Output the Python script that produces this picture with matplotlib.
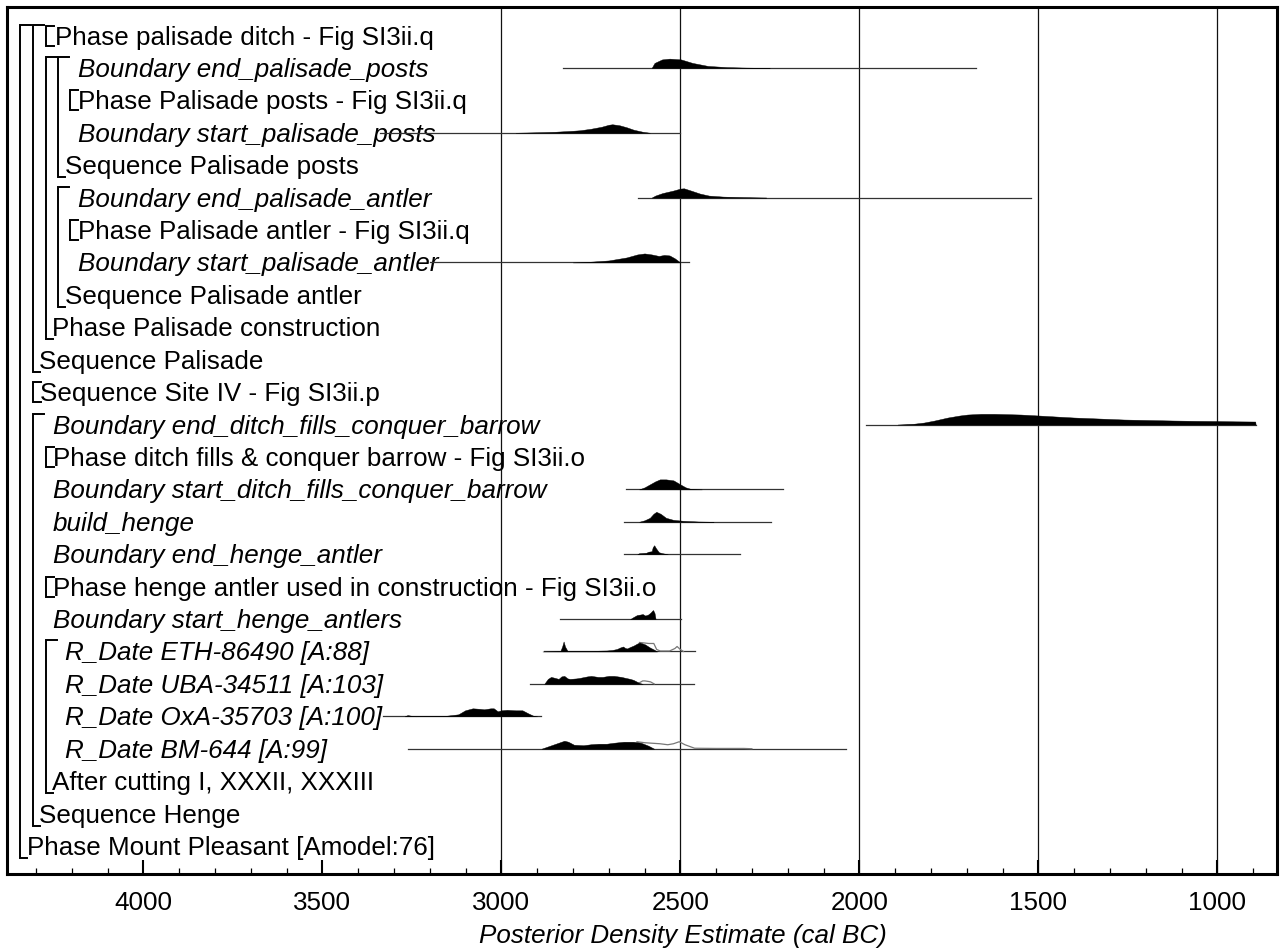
import numpy as np
import matplotlib
matplotlib.use("Agg")
import matplotlib.pyplot as plt

plt.rcParams['font.family'] = ['Liberation Sans', 'DejaVu Sans']

# --- labels, top to bottom ---
labels = [
    "Phase palisade ditch - Fig SI3ii.q",
    "Boundary end_palisade_posts",
    "Phase Palisade posts - Fig SI3ii.q",
    "Boundary start_palisade_posts",
    "Sequence Palisade posts",
    "Boundary end_palisade_antler",
    "Phase Palisade antler - Fig SI3ii.q",
    "Boundary start_palisade_antler",
    "Sequence Palisade antler",
    "Phase Palisade construction",
    "Sequence Palisade",
    "Sequence Site IV - Fig SI3ii.p",
    "Boundary end_ditch_fills_conquer_barrow",
    "Phase ditch fills & conquer barrow - Fig SI3ii.o",
    "Boundary start_ditch_fills_conquer_barrow",
    "build_henge",
    "Boundary end_henge_antler",
    "Phase henge antler used in construction - Fig SI3ii.o",
    "Boundary start_henge_antlers",
    "R_Date ETH-86490 [A:88]",
    "R_Date UBA-34511 [A:103]",
    "R_Date OxA-35703 [A:100]",
    "R_Date BM-644 [A:99]",
    "After cutting I, XXXII, XXXIII",
    "Sequence Henge",
    "Phase Mount Pleasant [Amodel:76]",
]
italic = [False, True, False, True, False, True, False, True, False, False, False, False,
          True, False, True, True, True, False, True, True, True, True, True, False, False, False]
indent = [55, 78, 78, 78, 65, 78, 78, 78, 65, 52, 39, 40,
          53, 53, 53, 53, 53, 53, 53, 65, 65, 65, 65, 52, 39, 27]

# nesting brackets: (x px, first row, last row), rows counted from 1
groups = [(20, 1, 26), (33, 1, 11), (46, 2, 10), (58, 2, 5), (58, 6, 9), (33, 13, 25), (46, 20, 24)]
collapsed = [(46, 1), (70, 3), (70, 7), (33, 12), (46, 14), (46, 18)]

# --- distributions (years cal BC, density) ---
end_pal_posts_range = (2829, 1675)
end_pal_posts_yr = [2580, 2572, 2551, 2530, 2498, 2466, 2423, 2370, 2316, 2250]
end_pal_posts_d = [0, 5, 8.5, 9.3, 8.5, 5, 2, 0.8, 0.3, 0]

start_pal_posts_range = (3338, 2500)
start_pal_posts_yr = [2960, 2900, 2850, 2800, 2780, 2750, 2720, 2700, 2690, 2670, 2650, 2630, 2605, 2585]
start_pal_posts_d = [0, 0.5, 1, 2, 2.5, 4, 6, 8, 8.5, 7.5, 5.5, 3, 1, 0]

end_pal_antler_range = (2618, 1520)
end_pal_antler_yr = [2580, 2570, 2550, 2520, 2500, 2490, 2470, 2445, 2420, 2380, 2320, 2260]
end_pal_antler_d = [0, 2, 4.5, 7, 9, 9.3, 7, 4, 2, 1, 0.4, 0]

start_pal_antler_range = (3200, 2475)
start_pal_antler_yr = [2800, 2760, 2700, 2650, 2620, 2600, 2580, 2560, 2545, 2530, 2515, 2500]
start_pal_antler_d = [0, 0.5, 2, 5, 8, 9, 8, 6.5, 7.5, 7, 4, 0]

end_ditch_range = (1982, 893)
end_ditch_yr = [1893, 1850, 1819, 1790, 1753, 1720, 1698, 1660, 1623, 1580, 1549, 1498, 1450,
                1400, 1330, 1260, 1190, 1121, 1060, 1000, 950, 894, 893]
end_ditch_d = [0, 0.7, 2, 4, 7, 9, 10, 10.7, 10.7, 10.3, 10, 9, 8,
               7, 6, 5, 4.5, 4, 3.7, 3.5, 3.2, 3, 0]

start_ditch_range = (2651, 2213)
start_ditch_yr = [2615, 2600, 2585, 2570, 2557, 2540, 2519, 2500, 2485, 2471, 2440]
start_ditch_d = [0, 2, 5, 8, 10, 10, 9, 5, 2, 0.5, 0]

build_henge_range = (2656, 2247)
build_henge_yr = [2615, 2600, 2585, 2575, 2567, 2555, 2540, 2520, 2492, 2450, 2407]
build_henge_d = [0, 1.5, 4, 8, 10, 8, 4, 2, 1, 0.3, 0]

end_henge_range = (2658, 2332)
end_henge_yr = [2620, 2615, 2595, 2589, 2580, 2577, 2573, 2568, 2560, 2550, 2535]
end_henge_d = [0, 1, 1.5, 2.5, 3, 7, 9, 6, 2, 1, 0]

start_henge_range = (2837, 2498)
start_henge_yr = [2640, 2631, 2621, 2612, 2605, 2598, 2590, 2583, 2578, 2576, 2572, 2569]
start_henge_d = [0, 2, 4, 4.5, 5, 3.5, 4.5, 6.5, 8.5, 9, 6, 0]

eth_range = (2882, 2458)
eth_yr = [2885, 2835, 2830, 2826, 2822, 2815, 2798, 2750, 2705, 2690, 2677, 2668, 2660, 2654,
          2649, 2640, 2630, 2620, 2614, 2605, 2598, 2585, 2574, 2565]
eth_d = [0, 0.5, 5, 10, 5, 0.5, 0.5, 0.6, 1, 1.5, 2.5, 4, 5, 3.5,
         3, 4.5, 6, 8, 9, 8, 7, 4, 2, 0]
eth_lik_yr = [2614, 2600, 2588, 2574, 2566, 2556, 2530, 2515, 2509, 2500, 2491]
eth_lik_d = [9, 8.5, 8, 8, 2, 0.5, 0.5, 3, 5, 2, 0]

uba_range = (2920, 2463)
uba_yr = [2880, 2870, 2861, 2850, 2840, 2832, 2824, 2815, 2808, 2790, 2781, 2760, 2749, 2730,
          2717, 2700, 2685, 2665, 2653, 2640, 2631, 2620, 2615, 2605]
uba_d = [0, 5, 7, 6, 5, 7.5, 8, 5.5, 5, 5.5, 6, 7.5, 8, 7,
         7, 8, 8, 7, 6, 5, 4, 2, 1, 0]
uba_lik_yr = [2615, 2605, 2599, 2590, 2583, 2573]
uba_lik_d = [1, 3, 3, 2.5, 2, 0]

oxa_range = (3330, 2888)
oxa_yr = [3270, 3262, 3250, 3240, 3180, 3155, 3120, 3101, 3080, 3060, 3048, 3030, 3021, 3010,
          3000, 2984, 2960, 2941, 2925, 2910, 2900]
oxa_d = [0, 1.2, 0.5, 0, 0.2, 0.5, 2, 6, 8, 7.5, 7, 8, 8, 5,
         6, 6.5, 6, 6, 3, 0.5, 0]

bm_range = (3262, 2038)
bm_yr = [2888, 2856, 2824, 2813, 2797, 2771, 2749, 2728, 2706, 2685, 2658, 2631, 2610, 2589, 2573]
bm_d = [0, 4, 8, 7, 4, 3.5, 4.5, 5, 5, 6, 7, 7, 6, 3, 0]
bm_lik_yr = [2621, 2599, 2557, 2535, 2519, 2503, 2487, 2460, 2400, 2322, 2300]
bm_lik_d = [7, 6, 5, 4, 5, 7, 4, 0.5, 0.3, 0.3, 0]

dists = {
    2: (end_pal_posts_range, end_pal_posts_yr, end_pal_posts_d, None),
    4: (start_pal_posts_range, start_pal_posts_yr, start_pal_posts_d, None),
    6: (end_pal_antler_range, end_pal_antler_yr, end_pal_antler_d, None),
    8: (start_pal_antler_range, start_pal_antler_yr, start_pal_antler_d, None),
    13: (end_ditch_range, end_ditch_yr, end_ditch_d, None),
    15: (start_ditch_range, start_ditch_yr, start_ditch_d, None),
    16: (build_henge_range, build_henge_yr, build_henge_d, None),
    17: (end_henge_range, end_henge_yr, end_henge_d, None),
    19: (start_henge_range, start_henge_yr, start_henge_d, None),
    20: (eth_range, eth_yr, eth_d, (eth_lik_yr, eth_lik_d)),
    21: (uba_range, uba_yr, uba_d, (uba_lik_yr, uba_lik_d)),
    22: (oxa_range, oxa_yr, oxa_d, None),
    23: (bm_range, bm_yr, bm_d, (bm_lik_yr, bm_lik_d)),
}

# --- layout ---
W, H = 1281, 951
fig = plt.figure(figsize=(W / 100, H / 100), dpi=100)
ax_left, ax_right, ax_top, ax_bot = 7, 1277, 7, 874
ax = fig.add_axes([ax_left / W, 1 - ax_bot / H, (ax_right - ax_left) / W, (ax_bot - ax_top) / H])

pitch = 32.42          # px per row
row0 = 35.5            # px centre of first row
x4000, x1000 = 143.3, 1217.3


def xpx(p):
    # figure pixel -> year cal BC
    return 4000 - (p - x4000) * 3000 / (x1000 - x4000)


def dy(p):
    return p / pitch


ax.set_xlim(xpx(ax_left), xpx(ax_right))
ax.set_ylim(1 + (ax_bot - row0) / pitch, 1 - (row0 - ax_top) / pitch)

for yr in [3000, 2500, 2000, 1500, 1000]:
    ax.axvline(yr, color='#111111', lw=0.9, zorder=1)

fs = 18.7
for i, (lab, it, ind) in enumerate(zip(labels, italic, indent), start=1):
    ax.text(xpx(ind), i + dy(9), lab, fontsize=fs, style='italic' if it else 'normal',
            ha='left', va='baseline', zorder=3)

blw = 1.4
for x, r0, r1 in groups:
    yt = r0 - dy(11)
    yb = r1 + dy(12)
    ax.plot([xpx(x + 11), xpx(x), xpx(x), xpx(x + 7)], [yt, yt, yb, yb], color='black', lw=blw,
            solid_joinstyle='miter', zorder=2)
for x, r in collapsed:
    yt = r - dy(10)
    yb = r + dy(10)
    ax.plot([xpx(x + 8), xpx(x), xpx(x), xpx(x + 8)], [yt, yt, yb, yb], color='black', lw=blw,
            solid_joinstyle='miter', zorder=2)

for r, (rng, yr, d, lik) in dists.items():
    base = r
    ax.plot(list(rng), [base, base], color='#333333', lw=0.9, zorder=4)
    yr = np.array(yr, float)
    d = np.array(d, float)
    ax.fill_between(yr, base, base - dy(d), color='black', lw=0.3, zorder=5)
    if lik is not None:
        ly = np.array(lik[0], float)
        ld = np.array(lik[1], float)
        ax.plot(ly, base - dy(ld), color='#777777', lw=0.9, zorder=4)

ax.set_yticks([])
ax.set_xticks([4000, 3500, 3000, 2500, 2000, 1500, 1000])
ax.set_xticks(list(range(4300, 800, -100)), minor=True)
ax.tick_params(axis='x', which='major', direction='in', length=10, width=1.5, labelsize=fs, pad=12)
ax.tick_params(axis='x', which='minor', direction='in', length=4.5, width=0.9)
for s in ax.spines.values():
    s.set_linewidth(2.2)

fig.text(683 / W, 1 - 943 / H, 'Posterior Density Estimate (cal BC)', ha='center', va='baseline',
         fontsize=fs, style='italic')

fig.savefig('out.png', dpi=100)
